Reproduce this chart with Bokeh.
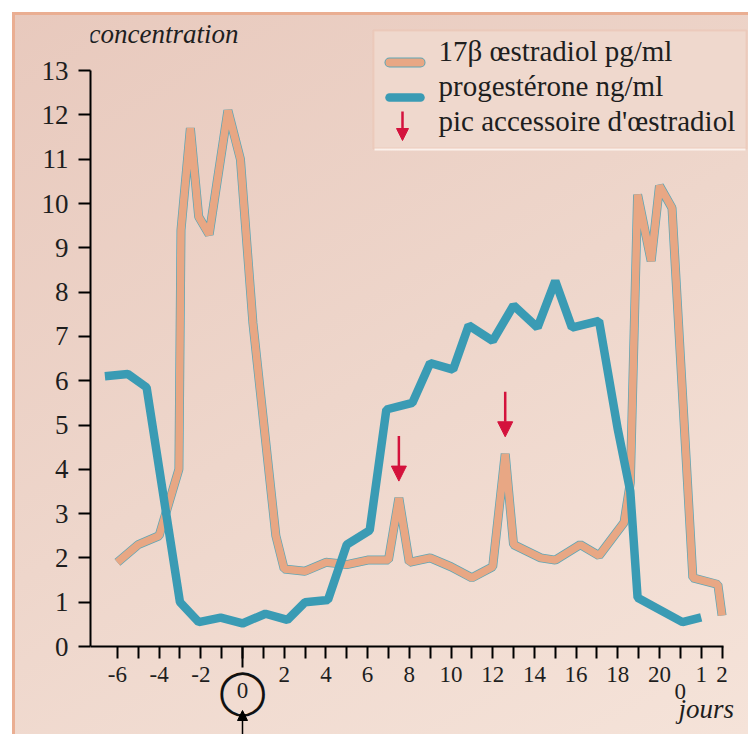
from bokeh.plotting import figure
from bokeh.models import (Range1d, FixedTicker, Label, Arrow, NormalHead,
                          BoxAnnotation, ColumnDataSource)
from bokeh.embed import file_html
from bokeh.resources import INLINE

# ---------------- data ----------------
estradiol_days = [-6, -5, -4, -3.05, -2.95, -2.5, -2.1, -1.6, -0.7, -0.1, 0.5, 1.6, 2.0,
                  3.0, 4.0, 5.0, 6.0, 7.0, 7.5, 8.0, 9.0, 10.0, 11.0, 12.0, 12.6, 13.0,
                  14.3, 15.0, 16.2, 17.1, 18.3, 18.6, 18.95, 19.6, 20.0, 20.6, 21.6, 22.8, 23.0]
estradiol_vals = [1.9, 2.3, 2.5, 4.0, 9.4, 11.7, 9.7, 9.3, 12.1, 11.0, 7.3, 2.5, 1.75,
                  1.7, 1.9, 1.85, 1.95, 1.95, 3.35, 1.9, 2.0, 1.8, 1.55, 1.8, 4.35, 2.3,
                  2.0, 1.95, 2.3, 2.05, 2.8, 3.7, 10.2, 8.7, 10.4, 9.9, 1.55, 1.4, 0.7]

progesterone_days = [-6.6, -5.5, -4.6, -3.0, -2.1, -1.05, 0.0, 1.1, 2.15, 3.0, 4.1, 5.0,
                     6.1, 6.9, 8.15, 9.0, 10.1, 10.85, 12.0, 13.0, 14.15, 15.0, 15.8,
                     17.1, 18.0, 18.6, 18.95, 21.1, 22.0]
progesterone_vals = [6.1, 6.15, 5.85, 1.0, 0.55, 0.65, 0.52, 0.74, 0.6, 1.0, 1.05, 2.3,
                     2.62, 5.35, 5.5, 6.4, 6.25, 7.25, 6.9, 7.7, 7.2, 8.25, 7.2,
                     7.35, 4.9, 3.5, 1.1, 0.55, 0.66]

peak_days = [7.5, 12.6]
peak_vals = [3.35, 4.35]

y_ticks = list(range(0, 14))
x_major = list(range(-6, 21, 2)) + [21, 22, 23]
x_minor = list(range(-5, 20, 2))
x_labels = {d: str(d) for d in range(-6, 21, 2)}
x_labels.update({0: "", 21: "", 22: "1", 23: "2"})
label_estradiol = "17β œstradiol pg/ml"
label_progesterone = "progestérone ng/ml"
label_peak = "pic accessoire d'œstradiol"
y_title = "concentration"
x_title = "jours"

# ---------------- layout (page pixels) ----------------
FIG_L, FIG_T = 12, 12
W, H = 736, 722
FRAME_L, FRAME_R, FRAME_T, FRAME_B = 90, FIG_L + W, 20, FIG_T + H
AXIS_Y = 646
PX_DAY, PX_UNIT, DAY0 = 20.85, 44.3, 242


def dx(px):
    return (px - DAY0) / PX_DAY


def dy(py):
    return (AXIS_Y - py) / PX_UNIT


ORANGE = "#e8a784"
OUTLINE = "#5ea6b6"
TEAL = "#3a9bb4"
RED = "#d4123c"
SERIF = "Liberation Serif"
INK = "#1e1e1e"

p = figure(width=W, height=H,
           x_range=Range1d(dx(FRAME_L), dx(FRAME_R)),
           y_range=Range1d(dy(FRAME_B), dy(FRAME_T)),
           output_backend="svg", toolbar_location=None,
           min_border_left=FRAME_L - FIG_L, min_border_right=0,
           min_border_top=FRAME_T - FIG_T, min_border_bottom=0)
p.background_fill_alpha = 0
p.border_fill_alpha = 0
p.outline_line_color = None
p.grid.visible = False
p.styles = {"background": "linear-gradient(150deg, #e8c9bd 0%, #eed6cb 50%, #f5e3d9 100%)",
            "margin-left": f"{FIG_L}px", "margin-top": f"{FIG_T}px",
            "box-shadow": "inset 3px 3px 0 #eaae92"}

# y axis
ya = p.yaxis[0]
ya.ticker = FixedTicker(ticks=y_ticks)
ya.bounds = (0, 13)
ya.major_tick_out = 12
ya.major_tick_in = 0
ya.minor_tick_out = 0
ya.minor_tick_in = 0
ya.axis_line_width = 2
ya.major_tick_line_width = 2
ya.major_label_standoff = 10
ya.major_label_text_font = SERIF
ya.major_label_text_font_size = "27px"
ya.major_label_text_color = INK

# x axis, pinned at concentration 0
xa = p.xaxis[0]
xa.fixed_location = 0
xa.ticker = FixedTicker(ticks=x_major, minor_ticks=x_minor)
xa.bounds = (dx(FRAME_L), 23.05)
xa.major_label_overrides = x_labels
xa.major_tick_out = 12
xa.major_tick_in = 0
xa.minor_tick_out = 12
xa.minor_tick_in = 0
xa.axis_line_width = 2
xa.major_tick_line_width = 2
xa.minor_tick_line_width = 2
xa.major_label_standoff = 8
xa.major_label_text_font = SERIF
xa.major_label_text_font_size = "23px"
xa.major_label_text_color = INK

# legend box (under the glyphs)
p.add_layout(BoxAnnotation(left=dx(373), right=dx(746), top=dy(30), bottom=dy(148),
                           fill_color="#efd8cd", fill_alpha=1,
                           line_color="#e9b49b", line_width=2, level="underlay"))
p.line([dx(374), dx(745)], [dy(149), dy(149)], line_color="#fbf1ec", line_width=2)

# curves
p.line(estradiol_days, estradiol_vals, line_color=OUTLINE, line_width=9)
p.line(estradiol_days, estradiol_vals, line_color=ORANGE, line_width=7.5)
p.line(progesterone_days, progesterone_vals, line_color=TEAL, line_width=8.5)

# red arrows over accessory peaks
arr_src = ColumnDataSource(dict(x=peak_days,
                                y0=[v + 62 / PX_UNIT for v in peak_vals],
                                y1=[v + 17 / PX_UNIT for v in peak_vals]))
p.add_layout(Arrow(x_start="x", y_start="y0", x_end="x", y_end="y1", source=arr_src,
                   line_color=RED, line_width=2.5,
                   end=NormalHead(size=15, fill_color=RED, line_color=RED)))

# day-0 marker: long tick, circled 0, upward arrow
p.add_layout(Arrow(x_start=0, y_start=0, x_end=0, y_end=dy(667), start=None, end=None,
                   line_color="black", line_width=2))
p.add_layout(Label(x=0, y=dy(690), text="◯", text_font="DejaVu Sans",
                   text_font_size="44px", text_align="center", text_baseline="middle",
                   text_color="#111111"))
p.add_layout(Label(x=0, y=dy(690), text="0", text_font=SERIF, text_font_size="23px",
                   text_align="center", text_baseline="middle", text_color=INK))
p.add_layout(Arrow(x_start=0, y_start=dy(745), x_end=0, y_end=dy(710),
                   line_color="black", line_width=1.5,
                   end=NormalHead(size=10, fill_color="black", line_color="black")))
p.add_layout(Label(x=21, y=dy(691), text="0", text_font=SERIF, text_font_size="23px",
                   text_align="center", text_baseline="middle", text_color=INK))

# titles
p.add_layout(Label(x=dx(88), y=dy(48), text=y_title, text_font=SERIF,
                   text_font_style="italic", text_font_size="27px", text_color=INK))
p.add_layout(Label(x=dx(678), y=dy(723), text=x_title, text_font=SERIF,
                   text_font_style="italic", text_font_size="27px", text_color=INK))

# legend samples and texts
p.line([dx(389), dx(420)], [dy(62), dy(62)], line_color=OUTLINE, line_width=10,
       line_cap="round")
p.line([dx(389), dx(420)], [dy(62), dy(62)], line_color=ORANGE, line_width=8,
       line_cap="round")
p.line([dx(389), dx(420)], [dy(97), dy(97)], line_color=TEAL, line_width=8.5,
       line_cap="round")
p.add_layout(Arrow(x_start=dx(402), y_start=dy(111), x_end=dx(402), y_end=dy(140),
                   line_color=RED, line_width=2.5,
                   end=NormalHead(size=12, fill_color=RED, line_color=RED)))
for txt, base in [(label_estradiol, 66), (label_progesterone, 101), (label_peak, 136)]:
    p.add_layout(Label(x=dx(438), y=dy(base), text=txt, text_font=SERIF,
                       text_font_size="29px", text_color=INK))

open("out.html", "w").write(file_html(p, INLINE))
